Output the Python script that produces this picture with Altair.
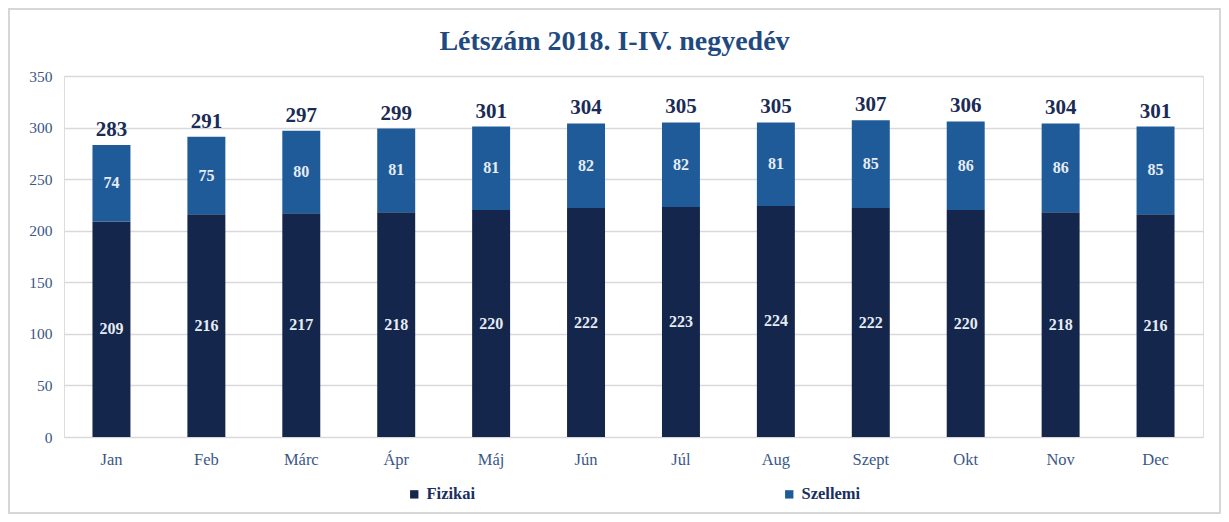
import altair as alt
import pandas as pd

months = ["Jan", "Feb", "Márc", "Ápr", "Máj", "Jún", "Júl", "Aug", "Szept", "Okt", "Nov", "Dec"]
fizikai = [209, 216, 217, 218, 220, 222, 223, 224, 222, 220, 218, 216]
szellemi = [74, 75, 80, 81, 81, 82, 82, 81, 85, 86, 86, 85]
series = ["Fizikai", "Szellemi"]
colors = ["#14264b", "#1f5b98"]
y_ticks = [0, 50, 100, 150, 200, 250, 300, 350]

rows = []
for m, f, s in zip(months, fizikai, szellemi):
    rows.append({"month": m, "series": "Fizikai", "value": f, "ord": 0})
    rows.append({"month": m, "series": "Szellemi", "value": s, "ord": 1})
df = pd.DataFrame(rows)
tot = pd.DataFrame({"month": months, "total": [f + s for f, s in zip(fizikai, szellemi)]})

FONT = "Liberation Serif"
W, H = 1139, 361

x_enc = alt.X("month:N", sort=months, scale=alt.Scale(paddingInner=0.6, paddingOuter=0.3),
              axis=alt.Axis(title=None, labelAngle=0, domain=False, ticks=False, labelPadding=14,
                            labelFontSize=16.5, labelColor="#3b5787", labelFont=FONT))
y_scale = alt.Scale(domain=[0, 350], nice=False)

bars = alt.Chart(df).mark_bar().encode(
    x=x_enc,
    y=alt.Y("value:Q", stack="zero", scale=y_scale,
            axis=alt.Axis(title=None, values=y_ticks, domain=False, ticks=False, labelPadding=12,
                          labelFontSize=15.5, labelColor="#3b5787", labelFont=FONT,
                          grid=True, gridColor="#d9d9d9", gridWidth=1.5)),
    color=alt.Color("series:N", scale=alt.Scale(domain=series, range=colors),
                    legend=alt.Legend(title=None, orient="none", direction="horizontal",
                                      legendX=342, legendY=410, symbolType="square", symbolSize=70,
                                      labelFont=FONT, labelFontSize=16.5, labelFontWeight="bold",
                                      labelColor="#1a2f5e", columnPadding=305, symbolStrokeWidth=0,
                                      labelOffset=4)),
    order=alt.Order("ord:Q"),
)

inner = alt.Chart(df).transform_stack(
    stack="value", groupby=["month"], sort=[alt.SortField("ord")], as_=["v0", "v1"]
).transform_calculate(mid="(datum.v0 + datum.v1) / 2").mark_text(
    font=FONT, fontSize=16, fontWeight="bold", color="#e6ecf4", baseline="middle"
).encode(
    x=alt.X("month:N", sort=months),
    y=alt.Y("mid:Q", scale=y_scale),
    text="value:Q",
)

totals = alt.Chart(tot).mark_text(
    font=FONT, fontSize=21, fontWeight="bold", color="#1a2b55", baseline="bottom", dy=-5
).encode(
    x=alt.X("month:N", sort=months),
    y=alt.Y("total:Q", scale=y_scale),
    text="total:Q",
)

border = alt.Chart(tot).mark_rect(fill=None, stroke="#d6d6d6", strokeWidth=1.5).encode(
    x=alt.value(-55), x2=alt.value(W + 17), y=alt.value(-67), y2=alt.value(H + 76)
)

chart = alt.layer(border, bars, inner, totals).properties(
    width=W, height=H,
    title=alt.TitleParams("Létszám 2018. I-IV. negyedév", font=FONT, fontSize=28, fontWeight="bold",
                          color="#1f4a80", anchor="middle", dx=-19, offset=-48),
    padding={"left": 56, "top": 68, "right": 18, "bottom": 77},
    autosize=alt.AutoSizeParams(type="none"),
).configure_view(stroke=None).configure(background="white")

chart.save("out.html", embed_options={"renderer": "svg", "actions": False})
